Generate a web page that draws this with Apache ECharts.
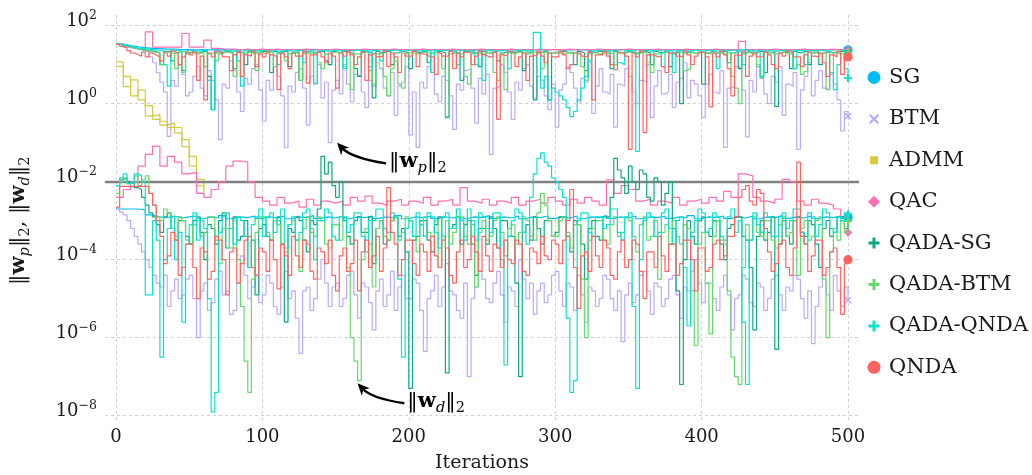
<!DOCTYPE html>
<html><head><meta charset="utf-8">
<script src="https://cdn.jsdelivr.net/npm/echarts@6/dist/echarts.min.js"></script>
<style>html,body{margin:0;padding:0;background:#fff}#c{width:1032px;height:475px}</style>
</head><body><div id="c"></div>
<script>
// ---------- data: log10 of the norms ----------
const iterations = Array.from({length: 101}, (_, i) => i * 5);      // coarse sampling (smooth curves)
const iterationsFine = Array.from({length: 201}, (_, i) => i * 2.5); // fine sampling (noisy curves)
const xTicks = [0, 100, 200, 300, 400, 500];
const yTicks = [-8, -6, -4, -2, 0, 2];
const methods = ['SG', 'BTM', 'ADMM', 'QAC', 'QADA-SG', 'QADA-BTM', 'QADA-QNDA', 'QNDA'];
const thresholdLog = -2;

const sgPrimalLog = [
 1.53,1.49,1.46,1.44,1.42,1.41,1.40,1.40,1.39,1.39,
 1.38,1.39,1.38,1.38,1.39,1.38,1.38,1.39,1.38,1.38,
 1.39,1.38,1.38,1.39,1.38,1.38,1.39,1.38,1.38,1.39,
 1.38,1.38,1.39,1.38,1.38,1.39,1.38,1.38,1.39,1.38,
 1.38,1.39,1.38,1.38,1.39,1.38,1.38,1.39,1.38,1.38,
 1.39,1.38,1.38,1.39,1.38,1.38,1.39,1.38,1.38,1.39,
 1.38,1.38,1.39,1.38,1.38,1.39,1.38,1.38,1.39,1.38,
 1.38,1.39,1.38,1.38,1.39,1.38,1.38,1.39,1.38,1.38,
 1.39,1.38,1.38,1.39,1.38,1.38,1.39,1.38,1.38,1.39,
 1.38,1.38,1.39,1.38,1.38,1.39,1.38,1.38,1.39,1.38,
 1.38];
const sgDualLog = [
 -2.70,-2.70,-2.70,-2.72,-2.85,-2.90,-2.92,-2.88,-2.93,-2.90,
 -2.88,-2.95,-2.90,-2.93,-2.87,-2.95,-2.90,-2.92,-2.88,-2.94,
 -2.90,-2.93,-2.88,-2.95,-2.90,-2.92,-2.87,-2.94,-2.90,-2.93,
 -2.88,-2.95,-2.90,-2.92,-2.88,-2.94,-2.90,-2.93,-2.87,-2.95,
 -2.90,-2.92,-2.88,-2.94,-2.90,-2.93,-2.88,-2.95,-2.90,-2.92,
 -2.87,-2.94,-2.90,-2.93,-2.88,-2.95,-2.90,-2.92,-2.88,-2.94,
 -2.90,-2.93,-2.88,-2.95,-2.90,-2.92,-2.87,-2.94,-2.90,-2.93,
 -2.88,-2.95,-2.90,-2.92,-2.88,-2.94,-2.90,-2.93,-2.87,-2.95,
 -2.90,-2.92,-2.88,-2.94,-2.90,-2.93,-2.88,-2.95,-2.90,-2.92,
 -2.87,-2.94,-2.90,-2.93,-2.88,-2.95,-2.90,-2.92,-2.88,-2.94,
 -2.92];
const btmPrimalLog = [
 1.53,1.50,1.47,1.44,1.42,1.40,1.38,1.35,1.33,1.20,1.05,0.80,0.55,0.30,-0.84,0.60,0.45,1.00,0.75,0.20,
 0.30,0.70,0.95,0.40,0.20,0.85,0.60,0.10,-0.92,0.50,0.40,1.10,0.85,0.30,-0.20,0.65,0.50,0.90,1.00,0.35,
 -0.45,0.60,0.35,0.95,0.70,0.20,-1.13,0.45,0.30,0.80,0.90,0.40,-0.55,0.70,0.50,1.00,0.15,0.55,-1.00,0.35,
 0.60,0.25,1.00,0.50,0.05,0.75,0.70,0.30,-0.10,0.60,0.45,1.05,0.90,0.40,0.20,0.80,-0.30,0.45,0.55,0.95,
 -0.80,0.30,-1.12,0.55,0.40,0.95,0.80,0.25,0.05,0.70,0.60,0.20,-0.66,0.50,0.35,0.85,0.90,0.40,-0.50,0.65,
 0.25,0.75,-1.30,0.40,0.45,1.00,0.80,0.30,-0.40,0.55,0.35,0.90,1.00,0.45,0.15,0.70,0.60,0.20,-0.15,0.50,
 -0.60,0.35,0.50,0.95,0.80,0.40,0.05,0.65,0.55,1.05,-0.25,0.45,0.90,0.30,0.25,0.75,-0.60,0.50,0.45,0.90,
 0.70,0.30,0.00,0.60,0.55,1.00,-0.35,0.45,0.85,0.25,0.30,0.75,-0.10,0.55,0.65,1.05,0.15,0.60,0.50,0.20,
 -0.35,0.50,0.75,0.30,0.25,0.85,-1.12,0.40,0.45,0.95,0.90,0.35,-0.85,0.60,0.30,1.00,0.65,0.25,0.00,0.70,
 0.55,0.95,-0.30,0.50,0.45,0.80,-1.17,0.35,0.70,1.05,0.20,0.60,0.85,0.40,0.35,0.75,0.50,0.10,-0.70,-0.20,
 -0.32];
const btmDualLog = [
 -2.70,-2.78,-2.85,-3.00,-3.20,-3.40,-3.60,-3.80,-4.00,-4.20,-4.40,-4.60,-4.70,-4.40,-5.20,-4.80,-4.50,-5.00,-4.90,-4.50,
 -4.40,-5.00,-6.00,-4.80,-4.60,-5.30,-5.10,-4.50,-4.30,-4.90,-4.80,-5.40,-5.30,-4.60,-3.90,-4.40,-5.00,-4.70,-4.40,-5.10,
 -4.90,-4.40,-4.60,-5.20,-5.40,-4.70,-4.30,-5.00,-4.80,-5.50,-6.40,-4.80,-4.70,-5.30,-5.00,-4.50,-4.00,-4.60,-5.20,-4.70,
 -4.60,-5.20,-5.00,-4.40,-4.30,-4.90,-5.50,-4.60,-4.70,-5.10,-5.80,-4.80,-4.50,-5.20,-4.90,-4.30,-5.30,-4.70,-4.40,-5.00,
 -5.00,-4.50,-4.60,-5.30,-6.35,-5.00,-4.80,-4.40,-5.20,-4.70,-4.10,-4.80,-4.90,-5.30,-5.50,-4.60,-7.00,-5.00,-4.70,-4.30,
 -4.50,-5.00,-5.10,-4.60,-4.30,-4.90,-5.60,-4.70,-4.80,-5.20,-4.00,-4.50,-5.00,-4.60,-5.40,-4.80,-4.60,-5.10,-4.90,-4.40,
 -4.30,-4.80,-5.20,-4.60,-4.70,-5.30,-4.40,-4.90,-5.60,-4.70,-4.80,-5.20,-5.00,-4.40,-4.50,-5.00,-5.30,-4.80,-6.10,-4.90,
 -4.60,-5.10,-4.90,-4.40,-4.30,-4.80,-5.40,-4.60,-4.70,-5.20,-5.00,-4.50,-4.40,-4.90,-5.50,-4.70,-4.80,-4.30,-4.00,-4.60,
 -5.10,-4.60,-4.60,-5.00,-5.30,-4.70,-4.40,-4.90,-5.80,-5.00,-4.90,-4.40,-4.50,-5.10,-5.20,-4.60,-4.70,-5.30,-5.00,-4.50,
 -4.40,-4.90,-5.30,-4.70,-4.80,-4.40,-4.50,-5.00,-5.50,-4.80,-6.15,-5.20,-4.70,-4.40,-4.90,-5.30,-4.40,-4.80,-5.20,-4.70,
 -5.04];
const admmPrimalLog = [1.07,0.44,0.61,0.10,-0.32,-0.28,-0.45,-0.61,-0.61,-0.92,-1.35,-1.94,-2.20];
const admmDualLog   = [0.95,0.70,0.20,0.35,-0.05,-0.40,-0.55,-0.50,-0.75,-1.10,-1.60,-2.10,-2.35];
const qacPrimalLog = [
 1.53,1.45,1.42,1.40,1.84,1.45,1.45,1.45,1.45,1.80,
 1.45,1.45,1.63,1.42,1.40,1.40,1.38,1.40,1.38,1.40,
 1.38,1.40,1.38,1.39,1.38,1.40,1.38,1.39,1.38,1.40,
 1.38,1.39,1.38,1.40,1.38,1.39,1.38,1.40,1.38,1.39,
 1.38,1.40,1.38,1.39,1.38,1.40,1.38,1.39,1.38,1.40,
 1.38,1.39,1.38,1.40,1.38,1.39,1.38,1.40,1.38,1.39,
 1.38,1.40,1.38,1.39,1.38,1.40,1.38,1.39,1.38,1.40,
 1.38,1.39,1.38,1.40,1.38,1.39,1.38,1.40,1.38,1.39,
 1.38,1.40,1.38,1.39,1.38,1.60,1.38,1.39,1.38,1.40,
 1.38,1.39,1.38,1.40,1.38,1.39,1.38,1.40,1.38,1.39,
 1.38];
const qacDualLog = [
 -2.40,-2.20,-2.00,-1.60,-1.30,-1.09,-1.60,-1.35,-1.50,-1.80,
 -1.76,-2.30,-2.40,-2.20,-2.00,-1.60,-1.47,-1.50,-2.00,-2.40,
 -2.50,-2.60,-2.40,-2.55,-2.50,-2.65,-2.45,-2.60,-2.50,-2.55,
 -2.50,-2.60,-2.40,-2.50,-2.37,-2.55,-2.60,-2.50,-2.45,-2.60,
 -2.50,-2.55,-2.40,-2.60,-2.50,-2.45,-2.60,-2.15,-2.50,-2.55,
 -2.45,-2.60,-2.50,-2.55,-2.40,-2.60,-2.50,-2.45,-2.55,-2.40,
 -2.50,-2.60,-2.45,-2.55,-2.40,-2.50,-2.60,-1.95,-2.30,-2.10,
 -2.20,-2.50,-2.45,-2.60,-2.50,-2.55,-2.40,-2.60,-2.50,-2.45,
 -2.55,-2.40,-2.50,-2.25,-2.40,-1.80,-1.85,-2.40,-2.50,-2.55,
 -2.45,-1.94,-2.00,-2.50,-2.60,-2.45,-2.55,-2.60,-2.70,-2.90,
 -3.30];
const qadaSgPrimalLog = [
 1.53,1.50,1.48,1.46,1.44,1.42,1.40,1.38,1.36,1.35,1.34,1.30,1.00,1.34,1.34,1.10,1.30,1.34,0.85,1.30,
 1.34,1.30,1.30,1.34,1.34,0.70,-0.15,1.30,1.30,1.34,1.34,1.30,0.90,1.34,1.30,1.00,1.34,1.30,1.30,1.34,
 1.34,1.30,0.80,1.34,1.30,1.34,1.34,0.95,1.30,1.34,0.60,1.30,1.34,1.30,1.30,1.34,1.34,1.10,1.00,1.34,
 1.30,1.34,1.34,1.30,1.30,0.90,0.70,1.34,1.34,1.30,0.15,1.34,1.30,1.34,1.34,1.00,1.30,1.34,1.34,1.30,
 0.90,1.34,1.30,1.34,1.34,1.05,1.30,1.34,1.34,1.30,-0.36,1.34,1.30,1.30,0.60,1.34,1.34,1.30,1.30,0.95,
 1.34,1.30,1.30,1.34,1.10,1.30,1.34,1.30,1.30,1.34,1.34,0.85,1.30,1.34,0.10,1.30,1.34,1.34,0.10,1.30,
 1.30,1.34,1.34,1.30,1.30,1.00,1.34,1.30,0.85,1.34,1.30,1.34,1.34,1.30,1.30,0.90,1.34,1.30,1.30,1.34,
 1.34,1.30,1.30,1.34,1.34,1.30,1.00,1.34,1.30,1.34,1.34,0.95,1.30,1.34,0.00,1.30,1.34,1.30,1.30,1.34,
 0.50,1.30,1.34,1.30,1.30,1.34,1.34,1.05,1.30,1.34,0.90,1.30,1.34,1.30,1.30,1.34,1.34,0.80,1.30,1.34,
 -0.07,1.30,1.34,1.30,0.90,1.34,1.30,1.34,1.34,1.00,1.30,1.34,1.00,1.30,1.34,1.30,1.30,1.34,1.34,1.30,
 1.34];
const qadaSgDualLog = [
 -2.10,-1.95,-1.90,-2.00,-2.05,-2.15,-2.20,-2.40,-2.60,-2.80,-2.90,-3.10,-3.30,-2.90,-2.80,-3.20,-3.50,-3.00,-3.00,-3.40,
 -3.60,-3.00,-2.90,-3.30,-4.00,-3.10,-3.20,-3.60,-3.00,-2.80,-3.70,-3.20,-2.90,-3.50,-3.40,-3.00,-4.20,-3.50,-4.90,-3.20,
 -3.10,-3.40,-3.50,-3.00,-2.90,-3.60,-5.60,-3.20,-3.30,-2.90,-3.00,-3.50,-3.80,-3.00,-3.10,-2.70,-1.35,-1.80,-1.50,-2.10,
 -2.40,-2.00,-3.00,-3.40,-3.60,-3.00,-2.90,-3.30,-3.30,-2.90,-4.10,-3.20,-3.00,-3.60,-3.50,-3.00,-2.90,-3.40,-3.20,-3.80,
 -7.30,-3.50,-3.40,-3.00,-3.00,-3.50,-3.80,-3.10,-2.90,-3.40,-6.90,-3.20,-3.10,-2.90,-3.60,-3.10,-3.00,-3.60,-4.40,-3.20,
 -3.20,-3.60,-2.90,-3.20,-3.70,-3.00,-3.00,-3.40,-3.40,-4.60,-7.00,-3.30,-3.10,-3.50,-2.90,-3.20,-3.60,-3.00,-3.00,-3.40,
 -3.30,-2.90,-2.90,-3.40,-3.80,-3.00,-3.10,-3.60,-4.50,-3.20,-3.00,-3.40,-3.50,-2.90,-2.90,-2.40,-1.40,-1.70,-1.90,-2.30,
 -1.60,-2.00,-2.20,-1.70,-1.80,-2.40,-2.50,-1.90,-2.00,-2.60,-2.30,-2.00,-3.20,-4.80,-7.20,-4.00,-3.00,-3.40,-3.60,-3.00,
 -2.90,-3.30,-3.40,-3.00,-3.00,-3.60,-4.00,-3.20,-3.10,-2.90,-2.90,-3.40,-3.50,-4.20,-5.80,-3.40,-3.00,-3.50,-3.30,-2.90,
 -6.30,-3.60,-3.00,-3.40,-3.60,-3.00,-2.90,-3.30,-3.40,-3.00,-3.10,-3.60,-4.20,-3.20,-3.00,-3.40,-3.30,-2.90,-2.90,-3.20,
 -3.00];
const qadaBtmPrimalLog = [
 1.53,1.50,1.48,1.45,1.43,1.41,1.39,1.37,1.35,1.33,1.32,1.28,1.00,1.32,1.32,1.28,0.90,1.32,0.80,1.28,
 1.32,1.28,1.28,1.32,0.95,1.28,1.32,1.10,1.28,1.32,1.32,1.28,0.70,1.32,1.28,1.32,1.32,1.28,0.85,1.32,
 1.28,1.32,1.32,0.95,1.28,1.32,1.10,1.28,1.32,1.28,0.60,1.32,1.28,1.32,1.32,1.05,0.90,1.28,1.28,1.32,
 1.32,1.28,0.95,1.32,0.36,1.28,1.28,1.32,1.32,0.85,0.50,1.28,1.28,0.70,0.20,0.90,1.10,0.50,0.40,1.28,
 1.32,1.28,1.28,1.32,1.32,1.28,0.80,1.32,1.28,0.90,-0.33,1.28,1.32,1.28,1.28,0.70,0.50,1.28,1.32,1.28,
 1.28,1.32,1.32,0.80,0.60,1.28,0.36,1.32,1.28,1.32,1.32,1.28,1.28,1.32,1.32,1.28,0.90,1.32,1.28,1.32,
 1.32,1.28,1.28,1.32,1.32,1.28,1.28,0.95,0.60,1.28,1.32,1.28,1.28,1.32,1.32,1.28,1.00,1.32,1.28,1.32,
 1.32,1.28,1.28,1.32,1.32,1.05,0.80,1.28,1.28,1.32,1.32,1.28,1.28,1.32,1.32,0.85,0.90,1.32,1.28,1.32,
 1.32,1.28,1.28,1.32,1.32,1.28,1.28,1.32,0.70,0.40,0.00,1.28,1.32,1.28,1.28,0.95,0.67,1.32,1.32,1.28,
 1.28,1.32,1.32,1.28,1.28,0.90,1.00,0.75,0.83,1.32,1.32,1.28,1.28,1.32,0.36,0.80,1.32,1.28,1.28,1.32,
 1.32];
const qadaBtmDualLog = [
 -2.30,-2.00,-1.90,-2.05,-2.00,-1.85,-2.10,-1.95,-1.85,-2.30,-2.60,-2.90,-3.00,-2.70,-2.80,-3.20,-3.40,-2.90,-3.00,-3.50,
 -3.60,-3.10,-3.00,-3.40,-3.30,-2.90,-2.90,-3.50,-4.10,-3.20,-3.20,-3.70,-3.00,-4.00,-5.20,-6.60,-7.40,-4.50,-3.30,-2.90,
 -2.90,-3.30,-3.50,-3.00,-3.10,-3.60,-3.80,-3.10,-3.00,-3.50,-4.30,-3.20,-2.90,-3.30,-3.40,-2.90,-3.00,-3.60,-3.70,-3.10,
 -3.10,-3.50,-2.90,-4.20,-6.00,-6.60,-7.10,-4.00,-3.20,-3.60,-4.70,-3.20,-3.00,-3.40,-3.50,-3.00,-2.90,-3.50,-3.30,-2.90,
 -3.00,-3.40,-3.80,-3.10,-2.90,-3.30,-3.40,-3.00,-4.20,-3.40,-3.00,-3.60,-3.30,-2.90,-2.90,-3.40,-3.60,-3.10,-4.70,-3.30,
 -3.00,-3.50,-3.40,-3.00,-2.90,-3.30,-3.90,-3.20,-3.10,-3.60,-3.30,-2.90,-3.00,-3.40,-3.50,-2.80,-2.30,-2.60,-3.00,-3.40,
 -3.40,-3.00,-2.90,-3.30,-3.70,-3.10,-3.10,-4.50,-6.00,-3.50,-3.20,-3.00,-3.00,-3.50,-3.60,-3.10,-2.90,-3.40,-3.30,-2.90,
 -3.00,-3.40,-3.80,-3.10,-2.90,-3.50,-3.40,-3.00,-4.50,-3.30,-3.10,-3.60,-3.00,-3.40,-3.60,-3.10,-3.20,-4.80,-6.20,-3.60,
 -3.30,-4.60,-5.90,-3.40,-3.00,-3.50,-3.60,-4.80,-6.50,-7.00,-7.20,-4.20,-3.10,-3.50,-2.90,-3.30,-3.40,-3.00,-3.00,-3.50,
 -3.70,-3.10,-2.90,-3.40,-3.30,-3.00,-4.40,-3.20,-3.00,-3.50,-3.40,-3.00,-2.90,-4.50,-6.00,-3.80,-3.20,-3.50,-3.00,-3.30,
 -3.00];
const qadaQndaPrimalLog = [
 1.53,1.51,1.49,1.47,1.45,1.43,1.42,1.41,1.40,1.39,1.38,1.37,1.37,1.00,0.45,1.37,1.37,1.35,1.35,1.37,
 1.37,1.35,1.35,1.37,1.37,0.60,-0.15,1.35,1.35,1.37,1.37,1.35,1.35,1.10,0.45,1.37,1.37,1.35,1.35,1.37,
 1.37,1.35,1.35,1.37,1.00,1.35,1.37,1.35,1.35,1.37,1.37,1.05,1.35,1.37,0.53,1.35,1.37,1.35,1.35,1.37,
 1.37,1.35,0.90,1.37,1.35,1.37,1.37,1.35,1.35,0.95,1.37,1.35,1.10,1.37,1.35,1.37,1.37,1.35,1.35,1.37,
 1.37,1.35,1.35,1.37,1.37,1.35,0.80,1.37,1.35,1.37,1.37,1.35,1.35,1.00,1.37,1.35,1.35,1.37,1.00,1.35,
 0.60,1.37,1.37,1.35,1.35,1.37,1.37,0.90,1.35,1.37,1.37,1.35,1.35,1.37,1.83,1.83,0.40,0.70,0.10,0.40,
 0.30,0.20,0.10,-0.10,-0.33,-0.20,0.10,0.40,0.70,1.10,1.35,1.37,1.37,1.35,1.35,1.37,1.37,1.05,1.00,1.37,
 1.35,1.37,-1.22,1.35,1.37,1.35,1.35,1.37,1.37,0.95,1.35,1.37,0.80,1.35,1.37,1.35,1.35,1.37,1.37,1.35,
 1.35,1.37,1.37,1.35,0.90,1.37,1.35,1.37,1.37,1.35,1.35,1.00,1.37,1.35,1.35,1.37,0.70,1.35,1.37,1.35,
 1.35,1.37,1.37,1.35,1.35,0.90,1.37,1.35,1.00,1.37,1.35,1.37,1.37,1.35,1.35,0.80,0.36,1.00,1.37,0.90,
 0.66];
const qadaQndaDualLog = [
 -2.10,-1.90,-1.80,-2.05,-2.00,-1.80,-1.85,-2.00,-4.90,-4.90,-3.00,-3.50,-6.50,-4.00,-3.20,-2.90,-4.00,-3.30,-5.60,-3.60,
 -3.10,-2.80,-3.50,-3.00,-3.20,-5.00,-7.90,-7.40,-3.30,-2.90,-2.80,-3.20,-3.60,-2.90,-3.00,-3.40,-4.20,-3.10,-2.90,-2.70,
 -3.40,-2.90,-2.80,-3.30,-3.00,-2.70,-3.70,-3.10,-2.90,-3.50,-3.30,-2.80,-2.70,-3.20,-4.00,-3.00,-3.00,-2.70,-2.80,-3.40,
 -3.50,-2.90,-2.90,-3.30,-3.10,-2.80,-2.80,-3.40,-3.80,-3.00,-3.00,-2.70,-2.70,-3.20,-3.30,-2.80,-2.90,-4.50,-6.50,-3.20,
 -3.00,-3.40,-2.80,-3.10,-3.40,-2.80,-2.90,-3.30,-3.70,-2.90,-2.80,-3.20,-3.20,-2.70,-3.00,-3.50,-2.70,-3.00,-3.50,-2.80,
 -2.90,-3.20,-3.30,-2.80,-2.80,-4.00,-6.70,-3.40,-3.00,-2.70,-2.80,-3.30,-3.60,-2.40,-1.80,-1.40,-1.26,-1.50,-1.60,-1.90,
 -2.00,-2.20,-2.40,-5.50,-7.40,-7.10,-3.00,-2.80,-2.80,-3.30,-3.40,-2.90,-2.90,-3.20,-3.10,-2.70,-2.70,-3.30,-3.50,-2.90,
 -2.80,-5.20,-7.30,-4.00,-3.00,-2.80,-2.90,-3.40,-3.30,-2.80,-2.70,-3.20,-3.60,-3.00,-2.90,-4.20,-5.70,-3.30,-3.00,-2.70,
 -2.80,-3.30,-3.20,-2.80,-2.90,-3.40,-3.50,-2.90,-2.70,-3.30,-3.00,-5.60,-7.20,-3.50,-2.80,-3.10,-3.30,-2.80,-2.90,-3.40,
 -3.40,-2.90,-2.80,-3.20,-3.00,-2.70,-2.70,-3.30,-3.60,-2.80,-2.90,-3.40,-3.10,-2.70,-2.80,-3.20,-3.30,-2.90,-3.00,-2.80,
 -2.83];
const qndaPrimalLog = [
 1.53,1.47,1.42,1.36,1.30,1.26,1.22,1.32,1.20,1.30,1.25,1.20,1.10,1.30,1.22,1.35,1.30,1.00,1.20,1.32,
 1.25,1.32,0.60,1.22,0.10,1.30,1.20,1.35,1.30,1.20,1.20,0.85,1.25,1.32,0.70,1.25,1.22,1.35,0.95,1.28,
 1.20,1.35,1.25,1.20,0.36,1.30,1.20,0.90,1.30,1.22,1.22,1.35,0.53,1.25,1.25,1.32,1.20,1.05,1.30,1.22,
 0.40,1.30,1.22,1.35,1.25,1.00,1.20,1.32,0.60,1.25,1.30,1.20,1.22,1.35,0.95,1.30,1.20,0.80,1.30,1.22,
 1.22,1.35,0.95,1.28,1.25,1.20,1.20,0.75,1.30,1.22,1.22,1.35,0.90,1.30,1.20,1.32,1.30,1.00,1.22,1.35,
 1.25,1.20,1.20,1.32,-0.40,1.25,1.22,1.35,1.30,0.95,1.20,1.30,0.60,1.22,1.25,1.35,1.22,1.05,1.30,1.20,
 1.20,1.35,1.25,0.90,1.00,1.30,1.30,1.22,1.20,1.32,0.10,1.25,1.25,1.35,1.22,1.00,0.87,1.30,1.30,1.22,
 -1.17,1.30,1.20,1.35,-0.74,1.25,1.25,1.20,1.22,0.95,0.80,1.30,1.30,1.22,1.20,1.35,1.25,1.00,1.22,1.32,
 1.30,1.20,-0.08,1.30,1.20,1.35,1.25,0.90,0.20,1.25,1.22,1.35,0.70,1.22,1.30,1.20,1.20,1.32,1.25,1.00,
 0.90,1.30,1.22,1.35,1.30,1.20,1.20,0.95,1.25,1.32,1.22,1.20,1.30,1.05,0.70,1.25,1.20,1.35,0.75,1.22,
 1.20];
const qndaDualLog = [
 -2.65,-2.12,-2.12,-2.12,-2.12,-2.12,-2.12,-2.12,-2.12,-2.30,-2.60,-3.00,-3.40,-4.10,-3.90,-3.30,-3.50,-4.40,-4.20,-3.60,
 -3.60,-4.20,-5.00,-3.70,-3.80,-4.50,-4.30,-3.40,-3.50,-4.00,-4.90,-3.80,-3.70,-4.60,-4.10,-3.50,-3.40,-4.20,-4.40,-3.70,
 -3.80,-4.30,-3.50,-4.00,-4.75,-3.60,-3.90,-4.40,-3.40,-3.90,-4.20,-3.50,-3.60,-4.30,-4.50,-3.70,-3.80,-4.10,-3.50,-4.40,
 -4.80,-3.90,-3.70,-4.30,-4.10,-3.50,-4.80,-3.80,-3.50,-4.20,-3.90,-3.40,-4.30,-3.70,-2.15,-3.30,-3.60,-4.40,-4.00,-3.50,
 -3.50,-4.10,-4.40,-3.60,-3.80,-4.30,-3.40,-3.90,-4.20,-3.50,-3.70,-4.40,-4.60,-3.80,-3.50,-4.20,-4.00,-3.40,-3.80,-4.30,
 -3.40,-3.90,-4.30,-3.60,-3.70,-4.20,-3.50,-4.00,-4.10,-3.50,-3.60,-4.30,-4.40,-3.70,-3.80,-4.10,-3.40,-3.90,-4.00,-3.50,
 -3.60,-4.10,-3.50,-3.00,-2.20,-4.20,-5.25,-3.90,-3.80,-4.30,-3.40,-3.90,-4.20,-3.50,-3.70,-4.40,-4.50,-3.80,-3.50,-4.20,
 -4.00,-3.50,-3.60,-4.30,-5.00,-3.80,-3.80,-4.20,-3.40,-3.90,-4.30,-3.60,-3.60,-4.40,-4.10,-3.50,-3.50,-4.00,-4.80,-3.70,
 -3.70,-4.30,-4.20,-3.60,-3.50,-4.00,-3.90,-3.40,-3.40,-2.90,-2.40,-2.20,-2.10,-2.50,-2.60,-2.20,-2.30,-3.20,-3.80,-4.30,
 -4.10,-3.60,-3.50,-4.20,-4.40,-3.70,-1.50,-3.40,-3.60,-4.30,-3.90,-3.50,-3.50,-4.40,-4.20,-3.80,-3.70,-4.20,-5.40,-4.10,
 -4.00];

// ---------- styling ----------
const FONT = 'DejaVu Serif';
const TXT = '#1a1a1a';
const colors = {
  'SG': '#00bcf5', 'BTM': '#bcaaf8', 'ADMM': '#d6ca3e', 'QAC': '#ff6db2',
  'QADA-SG': '#10a882', 'QADA-BTM': '#64d96c', 'QADA-QNDA': '#08e2cf', 'QNDA': '#fd6460'
};
const P = 'path://M0,0M14,14';
const icons = {
  circle: 'path://M0,0M14,14M7,0.5A6.5,6.5,0,1,1,6.99,0.5Z',
  cross: P + 'M2,3.5L3.5,2L7,5.5L10.5,2L12,3.5L8.5,7L12,10.5L10.5,12L7,8.5L3.5,12L2,10.5L5.5,7Z',
  square: P + 'M3,3H11V11H3Z',
  diamond: P + 'M7,1L13,7L7,13L1,7Z',
  plus: P + 'M5.5,1.5H8.5V5.5H12.5V8.5H8.5V12.5H5.5V8.5H1.5V5.5H5.5Z'
};
const markerOf = {
  'SG': icons.circle, 'BTM': icons.cross, 'ADMM': icons.square, 'QAC': icons.diamond,
  'QADA-SG': icons.plus, 'QADA-BTM': icons.plus, 'QADA-QNDA': icons.plus, 'QNDA': icons.circle
};
const seriesLogs = {
  'SG': [sgPrimalLog, sgDualLog], 'BTM': [btmPrimalLog, btmDualLog], 'ADMM': [admmPrimalLog, admmDualLog],
  'QAC': [qacPrimalLog, qacDualLog], 'QADA-SG': [qadaSgPrimalLog, qadaSgDualLog],
  'QADA-BTM': [qadaBtmPrimalLog, qadaBtmDualLog], 'QADA-QNDA': [qadaQndaPrimalLog, qadaQndaDualLog],
  'QNDA': [qndaPrimalLog, qndaDualLog]
};

const series = [];
methods.forEach((name, mi) => {
  seriesLogs[name].forEach((logs, k) => {
    const xs = logs.length === iterationsFine.length ? iterationsFine : iterations;
    const data = logs.map((e, i) => [xs[i], e]);
    const last = data.length - 1;
    const showEnd = name !== 'ADMM';
    series.push({
      type: 'line', name, data, step: 'end', xAxisIndex: 0, yAxisIndex: 0,
      showSymbol: true, showAllSymbol: true,
      symbol: (v, p) => (showEnd && p.dataIndex === last) ? markerOf[name] : 'none',
      symbolSize: 10, symbolKeepAspect: true,
      itemStyle: {color: colors[name]},
      lineStyle: {color: colors[name], width: 1.2},
      z: 2 + mi, silent: true, animation: false,
      markLine: (mi === 0 && k === 1) ? {
        symbol: 'none', silent: true, animation: false, label: {show: false},
        lineStyle: {color: '#808080', width: 2.4, type: 'solid'},
        data: [{yAxis: thresholdLog}]
      } : undefined
    });
  });
});

const richMath = {
  n: {fontFamily: FONT, fontSize: 21, color: TXT, padding: [0, 0, 4, 0], verticalAlign: 'bottom'},
  b: {fontFamily: FONT, fontSize: 21, fontWeight: 'bold', color: TXT, padding: [0, 0, 4, 0], verticalAlign: 'bottom'},
  si: {fontFamily: FONT, fontSize: 14.5, fontStyle: 'italic', color: TXT, verticalAlign: 'bottom'},
  sn: {fontFamily: FONT, fontSize: 14.5, color: TXT, verticalAlign: 'bottom'}
};
const normP = '{n|‖}{b|w}{si|p}{n|‖}{sn|2}';
const normD = '{n|‖}{b|w}{si|d}{n|‖}{sn|2}';

const dashed = {show: true, lineStyle: {color: '#cdcde0', width: 1, type: [3, 3]}};

const option = {
  animation: false,
  backgroundColor: '#fff',
  grid: [
    {left: 105, right: 173, top: 25.7, bottom: 59.3, containLabel: false, outerBoundsMode: 'none'},
    {left: 105, right: 173, top: 15, bottom: 52, containLabel: false, outerBoundsMode: 'none'}
  ],
  xAxis: [
    {type: 'value', gridIndex: 0, min: -7.5, max: 507.5,
     name: 'Iterations', nameLocation: 'middle', nameGap: 38,
     nameTextStyle: {fontFamily: FONT, fontSize: 19, color: TXT},
     axisLine: {show: false}, axisTick: {show: false, customValues: xTicks},
     axisLabel: {customValues: xTicks, fontFamily: FONT, fontSize: 18, color: TXT, margin: 13},
     splitLine: {show: false}},
    {type: 'value', gridIndex: 1, min: -7.5, max: 507.5,
     axisLine: {show: false}, axisTick: {show: false, customValues: xTicks},
     axisLabel: {show: false, customValues: xTicks}, splitLine: dashed}
  ],
  yAxis: [
    {type: 'value', gridIndex: 0, min: -8, max: 2, interval: 2,
     name: normP + '{n|, }' + normD, nameLocation: 'middle', nameRotate: 90, nameGap: 72,
     nameTextStyle: {rich: richMath},
     axisLine: {show: false}, axisTick: {show: false},
     axisLabel: {
       margin: 8, verticalAlign: 'middle', hideOverlap: false,
       formatter: v => '{b|10}{s|' + (v < 0 ? '\u2212' + (-v) : v) + '}',
       rich: {
         b: {fontFamily: FONT, fontSize: 18, color: TXT, lineHeight: 32, padding: [2.25, 0, 0, 0], verticalAlign: 'top'},
         s: {fontFamily: FONT, fontSize: 12.5, color: TXT, lineHeight: 32, verticalAlign: 'top'}
       }
     },
     splitLine: dashed},
    {type: 'value', gridIndex: 1, min: 0, max: 1, show: false}
  ],
  legend: {
    orient: 'vertical', left: 862, top: 62, itemWidth: 20, itemHeight: 14, itemGap: 20.4,
    selectedMode: false,
    textStyle: {fontFamily: FONT, fontSize: 21, color: TXT, lineHeight: 20},
    data: methods.map(m => ({name: m, icon: markerOf[m]}))
  },
  series
};

const chart = echarts.init(document.getElementById('c'), null, {renderer: 'canvas'});
chart.setOption(option);

// annotations anchored in data space (iteration, log10 value)
const annotations = [
  {tip: [151, -1.0], label: [186.5, -1.53], text: normP},
  {tip: [165, -7.17], label: [199, -7.68], text: normD}
];
const graphics = [];
annotations.forEach(a => {
  const tip = chart.convertToPixel({gridIndex: 0}, a.tip);
  const lab = chart.convertToPixel({gridIndex: 0}, a.label);
  const start = [lab[0] - 3, lab[1]];
  const cp = [tip[0] + 14, tip[1] + 15];
  const dx = tip[0] - cp[0], dy = tip[1] - cp[1];
  const len = Math.hypot(dx, dy), ux = dx / len, uy = dy / len;
  const L = 12, W = 5.5;
  const bx = tip[0] - ux * L, by = tip[1] - uy * L;
  graphics.push({type: 'bezierCurve', silent: true, z: 100,
    shape: {x1: start[0], y1: start[1], x2: tip[0] - ux * 7, y2: tip[1] - uy * 7, cpx1: cp[0], cpy1: cp[1]},
    style: {stroke: '#000', lineWidth: 2.4, fill: null}});
  graphics.push({type: 'polygon', silent: true, z: 101,
    shape: {points: [[tip[0], tip[1]], [bx - uy * W, by + ux * W], [tip[0] - ux * L * 0.72, tip[1] - uy * L * 0.72], [bx + uy * W, by - ux * W]]},
    style: {fill: '#000'}});
  graphics.push({type: 'text', silent: true, z: 101,
    style: {text: a.text, rich: richMath, x: lab[0], y: lab[1], verticalAlign: 'middle', align: 'left'}});
});
chart.setOption({graphic: graphics});
</script></body></html>
